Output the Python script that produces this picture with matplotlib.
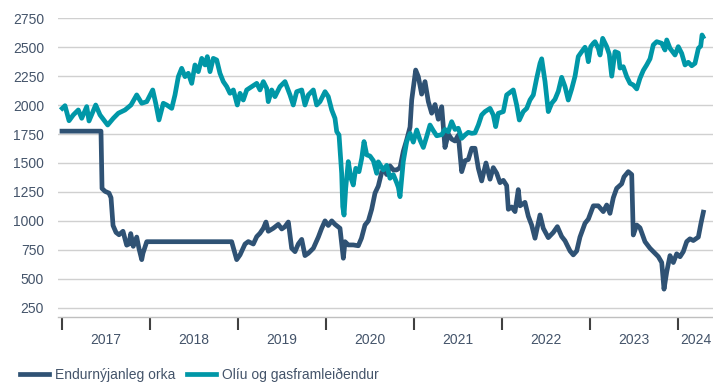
import numpy as np
import matplotlib
matplotlib.use("Agg")
import matplotlib.pyplot as plt
from matplotlib.ticker import FixedLocator, NullFormatter

plt.rcParams['font.family'] = ['Liberation Sans', 'DejaVu Sans']

# time axis in fractional years
renew_t = [2017.000, 2017.443, 2017.455, 2017.489, 2017.534, 2017.557, 2017.580, 2017.614,
           2017.648, 2017.693, 2017.735, 2017.761, 2017.781, 2017.810, 2017.849, 2017.875,
           2017.906, 2017.920, 2017.963, 2018.928, 2018.943, 2018.985, 2019.023, 2019.080,
           2019.117, 2019.174, 2019.213, 2019.250, 2019.288, 2019.318, 2019.344, 2019.401,
           2019.458, 2019.497, 2019.534, 2019.572, 2019.610, 2019.648, 2019.685, 2019.724,
           2019.761, 2019.799, 2019.856, 2019.913, 2019.951, 2019.989, 2020.026, 2020.065,
           2020.102, 2020.159, 2020.197, 2020.216, 2020.253, 2020.310, 2020.367, 2020.403,
           2020.443, 2020.481, 2020.519, 2020.557, 2020.594, 2020.633, 2020.670, 2020.690,
           2020.727, 2020.765, 2020.803, 2020.841, 2020.878, 2020.917, 2020.955, 2020.974,
           2020.992, 2021.019, 2021.049, 2021.087, 2021.125, 2021.163, 2021.201, 2021.239,
           2021.276, 2021.315, 2021.352, 2021.390, 2021.428, 2021.466, 2021.503, 2021.542,
           2021.580, 2021.617, 2021.656, 2021.693, 2021.731, 2021.769, 2021.818, 2021.864,
           2021.901, 2021.940, 2021.977, 2022.015, 2022.053, 2022.072, 2022.110, 2022.148,
           2022.185, 2022.205, 2022.261, 2022.299, 2022.337, 2022.375, 2022.432, 2022.469,
           2022.526, 2022.583, 2022.629, 2022.678, 2022.716, 2022.773, 2022.810, 2022.849,
           2022.886, 2022.943, 2022.981, 2023.038, 2023.094, 2023.151, 2023.190, 2023.227,
           2023.265, 2023.303, 2023.360, 2023.386, 2023.435, 2023.474, 2023.492, 2023.531,
           2023.568, 2023.625, 2023.682, 2023.739, 2023.776, 2023.815, 2023.841, 2023.872,
           2023.909, 2023.947, 2023.985, 2024.023, 2024.060, 2024.099, 2024.136, 2024.174,
           2024.231, 2024.261, 2024.288]
renew_v = [1775, 1775, 1280, 1255, 1240, 1200, 960, 900,
           880, 910, 790, 800, 890, 780, 860, 760,
           665, 720, 820, 820, 780, 665, 706, 800,
           821, 800, 864, 893, 936, 990, 910, 936,
           970, 930, 950, 990, 763, 734, 800, 840,
           700, 720, 763, 860, 936, 1000, 960, 1000,
           970, 936, 677, 820, 792, 792, 785, 850,
           964, 1000, 1100, 1240, 1300, 1420, 1430, 1400,
           1475, 1440, 1440, 1460, 1600, 1700, 1810, 2044,
           2150, 2303, 2246, 2095, 2203, 2030, 1930, 2005,
           1878, 1986, 1634, 1750, 1706, 1690, 1740, 1425,
           1520, 1530, 1627, 1627, 1454, 1345, 1500, 1360,
           1460, 1411, 1330, 1350, 1305, 1100, 1120, 1080,
           1270, 1130, 1160, 1040, 964, 850, 1051, 936,
           855, 900, 950, 865, 828, 740, 706, 740,
           860, 979, 1015, 1130, 1130, 1080, 1137, 1065,
           1200, 1281, 1320, 1380, 1425, 1400, 878, 964,
           940, 820, 763, 720, 691, 640, 410, 560,
           700, 640, 715, 690, 734, 821, 845, 830,
           860, 979, 1075]

oil_t = [2017.003, 2017.034, 2017.080, 2017.128, 2017.185, 2017.224, 2017.281, 2017.307,
         2017.383, 2017.432, 2017.519, 2017.583, 2017.640, 2017.716, 2017.784, 2017.849,
         2017.906, 2017.963, 2018.031, 2018.065, 2018.102, 2018.151, 2018.190, 2018.247,
         2018.284, 2018.322, 2018.360, 2018.398, 2018.435, 2018.474, 2018.511, 2018.549,
         2018.588, 2018.625, 2018.651, 2018.682, 2018.719, 2018.758, 2018.795, 2018.833,
         2018.872, 2018.909, 2018.947, 2018.992, 2019.023, 2019.060, 2019.099, 2019.156,
         2019.213, 2019.250, 2019.288, 2019.326, 2019.344, 2019.383, 2019.420, 2019.477,
         2019.534, 2019.591, 2019.628, 2019.667, 2019.724, 2019.761, 2019.799, 2019.856,
         2019.894, 2019.932, 2019.989, 2020.026, 2020.065, 2020.102, 2020.122, 2020.148,
         2020.178, 2020.190, 2020.205, 2020.224, 2020.253, 2020.284, 2020.310, 2020.338,
         2020.375, 2020.406, 2020.432, 2020.463, 2020.500, 2020.538, 2020.576, 2020.594,
         2020.651, 2020.690, 2020.727, 2020.765, 2020.803, 2020.822, 2020.841, 2020.878,
         2020.917, 2020.955, 2020.992, 2021.031, 2021.068, 2021.106, 2021.144, 2021.182,
         2021.219, 2021.258, 2021.315, 2021.352, 2021.390, 2021.428, 2021.466, 2021.503,
         2021.542, 2021.580, 2021.617, 2021.656, 2021.693, 2021.731, 2021.769, 2021.807,
         2021.864, 2021.901, 2021.928, 2021.958, 2022.015, 2022.053, 2022.091, 2022.128,
         2022.167, 2022.197, 2022.242, 2022.281, 2022.318, 2022.356, 2022.394, 2022.432,
         2022.451, 2022.489, 2022.526, 2022.565, 2022.602, 2022.640, 2022.678, 2022.716,
         2022.753, 2022.792, 2022.830, 2022.867, 2022.906, 2022.943, 2022.962, 2022.981,
         2023.008, 2023.038, 2023.057, 2023.094, 2023.114, 2023.144, 2023.190, 2023.219,
         2023.247, 2023.284, 2023.322, 2023.341, 2023.378, 2023.417, 2023.455, 2023.492,
         2023.531, 2023.568, 2023.606, 2023.644, 2023.682, 2023.719, 2023.758, 2023.815,
         2023.852, 2023.872, 2023.909, 2023.966, 2024.003, 2024.042, 2024.080, 2024.117,
         2024.156, 2024.193, 2024.232, 2024.258, 2024.273, 2024.284]
oil_v = [1972, 1995, 1865, 1915, 1958, 1886, 1987, 1863,
         2001, 1915, 1828, 1886, 1930, 1958, 2001, 2088,
         2016, 2030, 2131, 2016, 1872, 2016, 2001, 1972,
         2088, 2246, 2318, 2246, 2275, 2188, 2347, 2289,
         2404, 2347, 2419, 2289, 2404, 2390, 2275, 2203,
         2160, 2102, 2131, 2001, 2102, 2044, 2131, 2160,
         2188, 2131, 2203, 2145, 2030, 2131, 2073, 2160,
         2203, 2088, 2001, 2116, 2131, 2001, 2088, 2131,
         2001, 2030, 2116, 2073, 1958, 1886, 1771, 1742,
         1411, 1123, 1050, 1282, 1512, 1368, 1310, 1454,
         1425, 1541, 1685, 1570, 1560, 1520, 1411, 1510,
         1440, 1480, 1368, 1400, 1330, 1290, 1209, 1512,
         1685, 1756, 1680, 1785, 1699, 1634, 1728, 1828,
         1780, 1735, 1745, 1790, 1770, 1857, 1790, 1800,
         1713, 1742, 1765, 1756, 1760, 1828, 1915, 1944,
         1972, 1915, 1814, 1929, 1944, 2088, 2110, 2131,
         2000, 1871, 1944, 1972, 2044, 2088, 2232, 2361,
         2400, 2203, 1944, 2016, 2050, 2120, 2240, 2160,
         2044, 2140, 2250, 2420, 2462, 2500, 2462, 2375,
         2505, 2534, 2548, 2491, 2433, 2577, 2505, 2440,
         2250, 2462, 2450, 2320, 2332, 2246, 2188, 2174,
         2140, 2232, 2300, 2347, 2400, 2520, 2548, 2534,
         2476, 2563, 2491, 2433, 2505, 2447, 2347, 2370,
         2340, 2361, 2491, 2510, 2606, 2590]

years = [2017, 2018, 2019, 2020, 2021, 2022, 2023, 2024]
y_ticks = [250, 500, 750, 1000, 1250, 1500, 1750, 2000, 2250, 2500, 2750]

navy = '#2f5274'
teal = '#0097a7'
txt = '#44546a'

fig = plt.figure(figsize=(7.13, 3.85), dpi=100)
ax = fig.add_axes([58 / 713, 1 - 316.7 / 385, 655 / 713, (316.7 - 18.3) / 385])

ax.plot(renew_t, renew_v, color=navy, lw=3.4, solid_joinstyle='round', label='Endurnýjanleg orka', zorder=3)
ax.plot(oil_t, oil_v, color=teal, lw=3.4, solid_joinstyle='round', label='Olíu og gasframleiðendur', zorder=3)

x_left = 2017 - 4 / 88
x_right = 2017 + 651 / 88
ax.set_xlim(x_left, x_right)
ax.set_ylim(172, 2750)

ax.set_yticks(y_ticks)
ax.set_yticklabels([str(v) for v in y_ticks])
ax.grid(axis='y', color='#d0d0d0', lw=1)
ax.set_axisbelow(True)

# year boundaries as tick marks, labels centred in each year
ax.xaxis.set_major_locator(FixedLocator(years))
ax.xaxis.set_major_formatter(NullFormatter())
centres = [y + 0.5 for y in years[:-1]] + [(years[-1] + x_right) / 2]
ax.xaxis.set_minor_locator(FixedLocator(centres))
ax.set_xticklabels([str(y) for y in years], minor=True)
ax.tick_params(axis='x', which='major', length=9, width=1.5, color='#404040', direction='out')
ax.tick_params(axis='x', which='minor', length=0, pad=12, labelsize=10, labelcolor=txt)
ax.tick_params(axis='y', length=0, pad=10, labelsize=10, labelcolor=txt)

for s in ['top', 'right', 'left']:
    ax.spines[s].set_visible(False)
ax.spines['bottom'].set_color('#bfbfbf')
ax.spines['bottom'].set_linewidth(1)

leg = fig.legend(loc='center left', bbox_to_anchor=(20 / 713, 1 - 375 / 385), ncol=2,
                 frameon=False, borderpad=0, borderaxespad=0, handlelength=2.1,
                 handletextpad=0.45, columnspacing=0.8, fontsize=10)
for t in leg.get_texts():
    t.set_color(txt)

fig.savefig('out.png', dpi=100)
